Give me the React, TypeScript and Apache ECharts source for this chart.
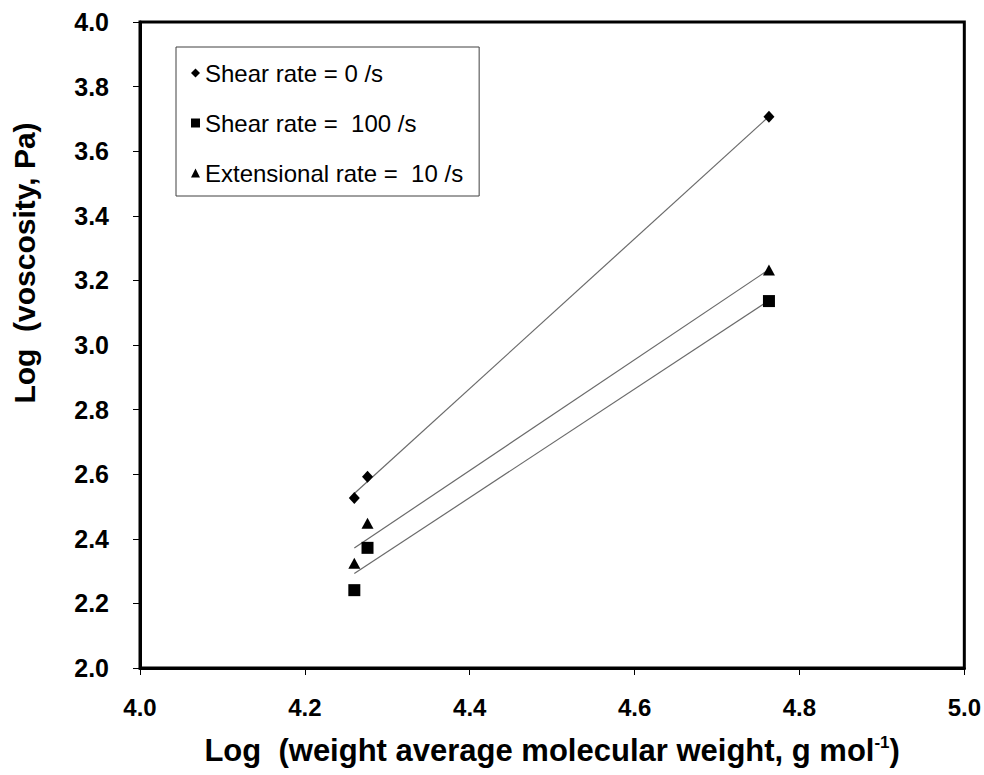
import React, { useEffect, useRef } from "react";
import * as echarts from "echarts";

const xValues = [4.26, 4.276, 4.763];
const shear0 = [2.526, 2.592, 3.707];
const shear100 = [2.241, 2.372, 3.136];
const ext10 = [2.324, 2.448, 3.232];
const seriesNames = ["Shear rate = 0 /s", "Shear rate =  100 /s", "Extensional rate =  10 /s"];
const yTicks = { min: 2.0, max: 4.0, interval: 0.2 };
const xTicks = { min: 4.0, max: 5.0, interval: 0.2 };
const yTitle = "Log  (voscosity, Pa)";

const FONT = "Liberation Sans, Arial, sans-serif";

function fitLine(xs: number[], ys: number[]): number[][] {
  const n = xs.length;
  const mx = xs.reduce((a, b) => a + b, 0) / n;
  const my = ys.reduce((a, b) => a + b, 0) / n;
  let sxy = 0;
  let sxx = 0;
  for (let i = 0; i < n; i++) {
    sxy += (xs[i] - mx) * (ys[i] - my);
    sxx += (xs[i] - mx) * (xs[i] - mx);
  }
  const k = sxy / sxx;
  const b = my - k * mx;
  const x0 = Math.min(...xs);
  const x1 = Math.max(...xs);
  return [
    [x0, k * x0 + b],
    [x1, k * x1 + b],
  ];
}

export default function App() {
  const ref = useRef<HTMLDivElement>(null);
  useEffect(() => {
    document.body.style.margin = "0";
    const chart = echarts.init(ref.current!, undefined, { renderer: "svg" });
    const pts = (ys: number[]) => xValues.map((x, i) => [x, ys[i]]);
    const trend = (ys: number[]) => ({
      type: "line",
      data: fitLine(xValues, ys),
      symbol: "none",
      lineStyle: { color: "#6a6a6a", width: 1.2 },
      z: 1,
      silent: true,
    });
    chart.setOption({
      animation: false,
      backgroundColor: "#ffffff",
      textStyle: { fontFamily: FONT },
      grid: {
        left: 140,
        right: 15,
        top: 22,
        bottom: 107,
        show: true,
        borderColor: "#000",
        borderWidth: 3,
      },
      legend: {
        orient: "vertical",
        left: 176,
        top: 47,
        data: seriesNames,
        itemWidth: 9,
        itemHeight: 9,
        itemGap: 26,
        padding: [14, 16, 11, 15],
        borderColor: "#404040",
        borderWidth: 1,
        textStyle: { fontSize: 24, color: "#000", fontFamily: FONT },
      },
      graphic: [
        {
          type: "text",
          x: 24,
          y: 263,
          rotation: Math.PI / 2,
          style: {
            text: yTitle,
            fontSize: 30,
            fontWeight: "bold",
            fontFamily: FONT,
            fill: "#000",
            align: "center",
            verticalAlign: "middle",
          },
        },
      ],
      xAxis: {
        type: "value",
        min: xTicks.min,
        max: xTicks.max,
        interval: xTicks.interval,
        axisLine: { show: true, lineStyle: { color: "#000", width: 3 } },
        axisTick: { show: true, inside: false, length: 7, lineStyle: { color: "#000", width: 1 } },
        splitLine: { show: false },
        axisLabel: {
          formatter: (v: number) => v.toFixed(1),
          fontSize: 24,
          fontWeight: "bold",
          color: "#000",
          margin: 27,
        },
        name: "{t|Log  (weight average molecular weight, g mol}{s|-1}{t|)}",
        nameLocation: "middle",
        nameGap: 66,
        nameTextStyle: {
          rich: {
            t: { fontSize: 31, fontWeight: "bold", color: "#000", fontFamily: FONT },
            s: { fontSize: 17, fontWeight: "bold", color: "#000", verticalAlign: "top", padding: [0, 0, 15, 0], fontFamily: FONT },
          },
        },
      },
      yAxis: {
        type: "value",
        min: yTicks.min,
        max: yTicks.max,
        interval: yTicks.interval,
        axisLine: { show: true, lineStyle: { color: "#000", width: 3 } },
        axisTick: { show: true, inside: false, length: 7, lineStyle: { color: "#000", width: 1 } },
        splitLine: { show: false },
        axisLabel: {
          formatter: (v: number) => v.toFixed(1),
          fontSize: 25,
          fontWeight: "bold",
          color: "#000",
          margin: 31,
        },
      },
      series: [
        {
          name: seriesNames[0],
          type: "scatter",
          data: pts(shear0),
          symbol: "diamond",
          symbolSize: [11, 12],
          itemStyle: { color: "#000", opacity: 1 },
          z: 3,
        },
        {
          name: seriesNames[1],
          type: "scatter",
          data: pts(shear100),
          symbol: "rect",
          symbolSize: 12,
          itemStyle: { color: "#000", opacity: 1 },
          z: 3,
        },
        {
          name: seriesNames[2],
          type: "scatter",
          data: pts(ext10),
          symbol: "triangle",
          symbolSize: [12, 11],
          itemStyle: { color: "#000", opacity: 1 },
          z: 3,
        },
        trend(shear0),
        trend(shear100),
        trend(ext10),
      ],
    });
    return () => chart.dispose();
  }, []);
  return <div ref={ref} style={{ position: "fixed", left: 0, top: 0, width: 984, height: 775 }} />;
}
